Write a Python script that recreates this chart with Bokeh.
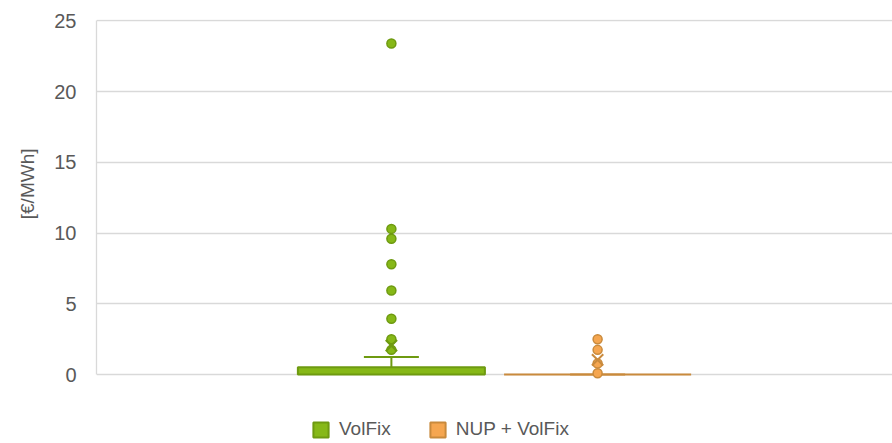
from bokeh.plotting import figure
from bokeh.models import (FactorRange, Range1d, LinearAxis, Legend, LegendItem,
                          FixedTicker, Grid, Title)
from bokeh.embed import file_html
from bokeh.resources import INLINE

# ---- data ----
series = ["VolFix", "NUP + VolFix"]
q1 = [0.0, 0.0]
q3 = [0.52, 0.0]
whisker_high = [1.25, 0.0]
means = [2.05, 1.04]
outliers_volfix = [23.4, 10.3, 9.6, 7.8, 5.95, 3.95, 2.5, 1.75]
outliers_nup = [2.5, 1.75, 0.78, 0.1]
y_ticks = [0, 5, 10, 15, 20, 25]
y_label = "[€/MWh]"

fills = ["#86B817", "#F5A650"]
edges = ["#6E9A10", "#C98A3C"]
FONT = "Liberation Sans"
TXT = "#595959"

p = figure(width=892, height=443,
           x_range=FactorRange(factors=series, range_padding=0.93,
                               range_padding_units="absolute"),
           y_range=Range1d(-4.87, 25.1),
           output_backend="svg", toolbar_location=None,
           x_axis_location=None, y_axis_location=None,
           min_border_left=96, min_border_right=0,
           min_border_top=19, min_border_bottom=0)
p.outline_line_color = None
p.background_fill_color = "white"
for r in list(p.center):
    if isinstance(r, Grid):
        r.visible = False

yaxis = LinearAxis(ticker=FixedTicker(ticks=y_ticks), bounds=(0, 25))
yaxis.axis_line_color = "#D9D9D9"
yaxis.axis_line_width = 1.3
yaxis.major_tick_line_color = None
yaxis.minor_tick_line_color = None
yaxis.major_tick_out = 0
yaxis.major_tick_in = 0
yaxis.major_label_standoff = 20
yaxis.major_label_text_font = FONT
yaxis.major_label_text_font_size = "20px"
yaxis.major_label_text_color = TXT
p.add_layout(yaxis, "left")

ytitle = Title(text=y_label, align="right", offset=129, standoff=28,
               vertical_align="bottom",
               text_font=FONT, text_font_size="19px", text_font_style="normal",
               text_color=TXT)
p.add_layout(ytitle, "left")

grid = Grid(dimension=1, ticker=FixedTicker(ticks=y_ticks), bounds=(0, 25))
grid.grid_line_color = "#D9D9D9"
grid.grid_line_width = 1.3
p.add_layout(grid)

box_renderers = []
for i, s in enumerate(series):
    r = p.vbar(x=[s], bottom=[q1[i]], top=[q3[i]], width=0.907,
               fill_color=fills[i], line_color=edges[i], line_width=2)
    box_renderers.append(r)
    # whisker stem and cap
    p.segment(x0=[s], y0=[q3[i]], x1=[s], y1=[whisker_high[i]],
              line_color=edges[i], line_width=2)
    p.scatter(x=[s], y=[whisker_high[i]], marker="dash", size=55,
              line_color=edges[i], line_width=2)

p.scatter(x=[series[0]] * len(outliers_volfix), y=outliers_volfix, marker="circle",
          size=9, fill_color=fills[0], line_color=edges[0], line_width=1.5)
p.scatter(x=[series[1]] * len(outliers_nup), y=outliers_nup, marker="circle",
          size=9, fill_color=fills[1], line_color=edges[1], line_width=1.5)

for i, s in enumerate(series):
    p.scatter(x=[s], y=[means[i]], marker="x", size=16,
              line_color=edges[i], line_width=2)

legend = Legend(items=[LegendItem(label=s, renderers=[box_renderers[i]])
                       for i, s in enumerate(series)],
                orientation="horizontal", location=(215, 3))
legend.padding = 0
legend.margin = 0
legend.border_line_color = None
legend.background_fill_alpha = 0
legend.glyph_width = 19
legend.glyph_height = 19
legend.label_height = 19
legend.label_standoff = 9
legend.spacing = 37
legend.label_text_font = FONT
legend.label_text_font_size = "19px"
legend.label_text_color = TXT
legend.label_text_baseline = "middle"
p.add_layout(legend, "center")

open("out.html", "w").write(file_html(p, INLINE))
